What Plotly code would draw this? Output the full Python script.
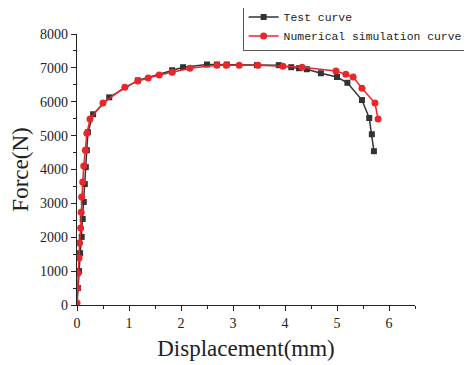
import plotly.graph_objects as go

test_x = [0, 0.02, 0.04, 0.06, 0.09, 0.11, 0.13, 0.15, 0.17, 0.19, 0.21, 0.31, 0.62,
          1.17, 1.83, 2.04, 2.5, 2.69, 2.88, 3.46, 3.88, 4.12, 4.27, 4.42, 4.69,
          5.0, 5.2, 5.48, 5.62, 5.67, 5.71]
test_y = [0, 500, 1000, 1530, 2010, 2540, 3040, 3570, 4070, 4570, 5100, 5630, 6130,
          6630, 6930, 7020, 7100, 7100, 7100, 7080, 7080, 7020, 6990, 6960, 6840,
          6730, 6560, 6050, 5520, 5040, 4540]

sim_x = [0, 0.01, 0.02, 0.04, 0.05, 0.07, 0.08, 0.09, 0.11, 0.13, 0.16, 0.19, 0.25,
         0.5, 0.92, 1.17, 1.37, 1.58, 1.83, 2.17, 2.69, 2.87, 3.12, 3.48, 3.96,
         4.33, 4.98, 5.17, 5.31, 5.48, 5.73, 5.79]
sim_y = [60, 500, 940, 1390, 1830, 2270, 2740, 3190, 3630, 4100, 4570, 5070, 5490,
         5960, 6430, 6610, 6700, 6790, 6870, 6990, 7080, 7080, 7080, 7080, 7050,
         7020, 6910, 6810, 6730, 6400, 5960, 5490]

x_ticks = [0, 1, 2, 3, 4, 5, 6]
y_ticks = [0, 1000, 2000, 3000, 4000, 5000, 6000, 7000, 8000]

fig = go.Figure()
fig.add_trace(go.Scatter(
    x=test_x, y=test_y, mode="lines+markers", name="Test curve",
    line=dict(color="#333333", width=1.5),
    marker=dict(symbol="square", size=6, color="#333333"),
))
fig.add_trace(go.Scatter(
    x=sim_x, y=sim_y, mode="lines+markers", name="Numerical simulation curve",
    line=dict(color="#e8262c", width=1.5),
    marker=dict(symbol="circle", size=7, color="#e8262c"),
))

axis_common = dict(
    showline=True, linecolor="#222222", linewidth=1.3, showgrid=False, zeroline=False,
    ticks="outside", ticklen=5, tickwidth=1.2, tickcolor="#222222",
    tickfont=dict(family="Liberation Serif", size=14, color="#222222"),
    mirror=False,
)

fig.update_xaxes(
    range=[0, 6.5], tickvals=x_ticks,
    minor=dict(ticks="outside", ticklen=3, tickwidth=1, tickcolor="#222222", dtick=0.5, tick0=0),
    title=dict(text="Displacement(mm)", font=dict(family="Liberation Serif", size=23, color="#222222"), standoff=9),
    **axis_common,
)
fig.update_yaxes(
    range=[0, 8000], tickvals=y_ticks,
    minor=dict(ticks="outside", ticklen=3, tickwidth=1, tickcolor="#222222", dtick=500, tick0=0),
    title=dict(text="Force(N)", font=dict(family="Liberation Serif", size=23, color="#222222"), standoff=4),
    **axis_common,
)

fig.update_layout(
    width=472, height=365,
    margin=dict(l=69, r=65, t=26, b=68, autoexpand=False),
    paper_bgcolor="white", plot_bgcolor="white",
    showlegend=True,
    legend=dict(
        x=0.49, y=1.12, xanchor="left", yanchor="top",
        bgcolor="white", bordercolor="#555555", borderwidth=1,
        font=dict(family="Liberation Mono", size=11.4, color="#222222"),
        tracegroupgap=0, itemwidth=30,
    ),
)

fig.write_html("out.html")
